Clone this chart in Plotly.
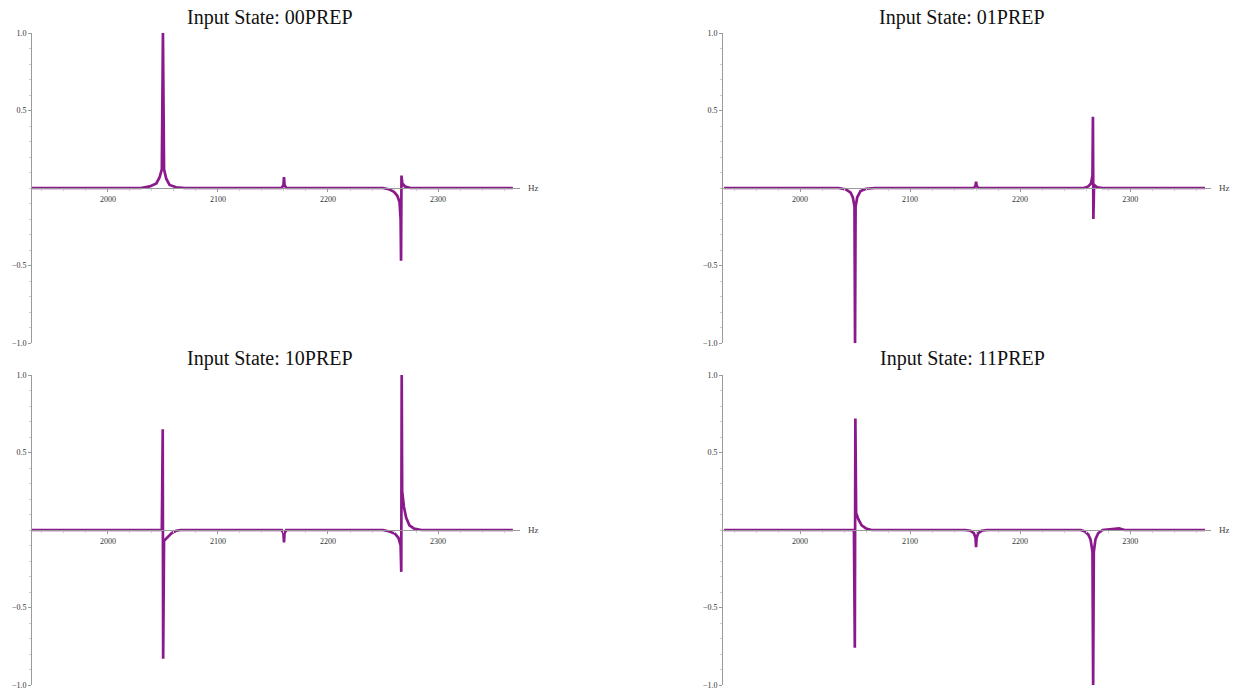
import plotly.graph_objects as go

# ---- data (Hz, normalized amplitude) ----
titles = ["Input State: 00PREP", "Input State: 01PREP", "Input State: 10PREP", "Input State: 11PREP"]

hz_00 = [1931, 2030, 2038, 2044, 2047, 2049, 2050, 2051, 2053, 2056, 2062, 2070,
         2158, 2159.5, 2160, 2160.5, 2162,
         2250, 2256, 2260, 2263, 2265, 2266, 2266.4, 2266.8, 2267.5, 2270, 2275, 2368]
amp_00 = [0, 0, 0.01, 0.03, 0.07, 0.12, 1.0, 0.12, 0.06, 0.02, 0.005, 0,
          0, 0.02, 0.07, 0.02, 0,
          0, -0.01, -0.025, -0.05, -0.09, -0.2, -0.47, 0.08, 0.03, 0.01, 0, 0]

hz_01 = [1931, 2035, 2042, 2046, 2048, 2049.5, 2050, 2050.5, 2052, 2055, 2060, 2068,
         2158, 2159.5, 2160, 2160.5, 2162,
         2258, 2262, 2264.5, 2265.8, 2266.2, 2266.6, 2267.2, 2270, 2275, 2368]
amp_01 = [0, 0, -0.01, -0.03, -0.06, -0.12, -1.0, -0.12, -0.06, -0.02, -0.005, 0,
          0, 0.015, 0.04, 0.015, 0,
          0, 0.01, 0.03, 0.08, 0.46, -0.2, 0.02, 0.005, 0, 0]

hz_10 = [1931, 2049, 2049.8, 2050.2, 2051, 2054, 2058, 2062, 2066,
         2158, 2159.5, 2160, 2160.5, 2162,
         2250, 2256, 2261, 2264, 2266, 2266.6, 2267.0, 2267.4, 2269, 2271, 2274, 2278, 2285, 2368]
amp_10 = [0, 0, 0.65, -0.83, -0.07, -0.05, -0.02, -0.005, 0,
          0, -0.02, -0.08, -0.02, 0,
          0, -0.01, -0.025, -0.05, -0.1, -0.27, 1.0, 0.25, 0.15, 0.08, 0.03, 0.01, 0, 0]

hz_11 = [1931, 2049, 2049.8, 2050.3, 2051, 2053, 2056, 2060, 2065,
         2150, 2155, 2158, 2159.5, 2160, 2160.5, 2162, 2165, 2170,
         2255, 2259, 2262, 2264, 2265.8, 2266.4, 2267, 2268.5, 2271, 2275, 2290, 2295, 2368]
amp_11 = [0, 0, -0.76, 0.72, 0.11, 0.07, 0.03, 0.01, 0,
          0, -0.005, -0.02, -0.05, -0.11, -0.05, -0.02, -0.005, 0,
          0, -0.01, -0.03, -0.06, -0.14, -1.0, -0.14, -0.06, -0.02, 0, 0.01, 0, 0]

x_ticks = [2000, 2100, 2200, 2300]
y_ticks = [-1.0, -0.5, 0.5, 1.0]
y_tick_text = ["\u22121.0", "\u22120.5", "0.5", "1.0"]

series = [(hz_00, amp_00), (hz_01, amp_01), (hz_10, amp_10), (hz_11, amp_11)]

# ---- layout geometry (pixels -> paper) ----
W, H = 1240, 695
x_dom = [[32 / W, 520 / W], [723 / W, 1211 / W], [32 / W, 520 / W], [723 / W, 1211 / W]]
y_dom = [[1 - 343 / H, 1 - 33 / H], [1 - 343 / H, 1 - 33 / H],
         [1 - 685 / H, 1 - 375 / H], [1 - 685 / H, 1 - 375 / H]]
x_range = [[1931, 2374.5], [1930, 2373.5], [1931, 2374.5], [1930, 2373.5]]
title_px = [(270, 17), (962, 17), (270, 358), (962, 358)]

FONT = "Liberation Serif"
PURPLE = "#8a1a8c"
GRAY = "#9a9a9a"

fig = go.Figure()
layout = dict(
    width=W, height=H,
    margin=dict(l=0, r=0, t=0, b=0, autoexpand=False),
    paper_bgcolor="white", plot_bgcolor="white",
    showlegend=False,
    font=dict(family=FONT, color="#333"),
)
annotations = []
for i, (xs, ys) in enumerate(series):
    n = "" if i == 0 else str(i + 1)
    fig.add_trace(go.Scatter(x=xs, y=ys, mode="lines",
                             line=dict(color=PURPLE, width=2.7),
                             xaxis="x" + n, yaxis="y" + n, hoverinfo="skip"))
    mid = (y_dom[i][0] + y_dom[i][1]) / 2
    layout["xaxis" + n] = dict(
        domain=x_dom[i], range=x_range[i], anchor="free", position=mid,
        automargin=False,
        showgrid=False, zeroline=False, showline=True, linecolor=GRAY, linewidth=1,
        tickvals=x_ticks, ticks="outside", ticklen=3, tickcolor=GRAY,
        tickfont=dict(family=FONT, size=8, color="#333"),
        minor=dict(dtick=20, ticklen=2, tickcolor="#cccccc", ticks="outside"),
        fixedrange=True,
    )
    layout["yaxis" + n] = dict(
        domain=y_dom[i], range=[-1, 1], anchor="x" + n,
        automargin=False,
        showgrid=False, zeroline=False, showline=True, linecolor=GRAY, linewidth=1,
        tickvals=y_ticks, ticktext=y_tick_text, ticks="outside", ticklen=3, tickcolor=GRAY,
        tickfont=dict(family=FONT, size=8, color="#333"),
        minor=dict(tickvals=[v / 10 for v in range(-10, 11)], ticklen=2,
                   tickcolor="#cccccc", ticks="outside"),
        fixedrange=True,
    )
    # title
    tx, ty = title_px[i]
    annotations.append(dict(
        text=titles[i], x=tx / W, y=1 - ty / H, xref="paper", yref="paper",
        showarrow=False, font=dict(family=FONT, size=20, color="#111"),
        xanchor="center", yanchor="middle"))
    # axis unit label
    annotations.append(dict(
        text="Hz", x=x_dom[i][1] + 6 / W, y=mid, xref="paper", yref="paper",
        showarrow=False, font=dict(family=FONT, size=9, color="#444"),
        xanchor="left", yanchor="middle"))

layout["annotations"] = annotations
fig.update_layout(**layout)
fig.write_html("out.html", config={"displayModeBar": False, "staticPlot": True},
               post_script="document.body.style.margin='0';document.body.style.padding='0';"
                           "document.body.style.overflow='hidden';")
